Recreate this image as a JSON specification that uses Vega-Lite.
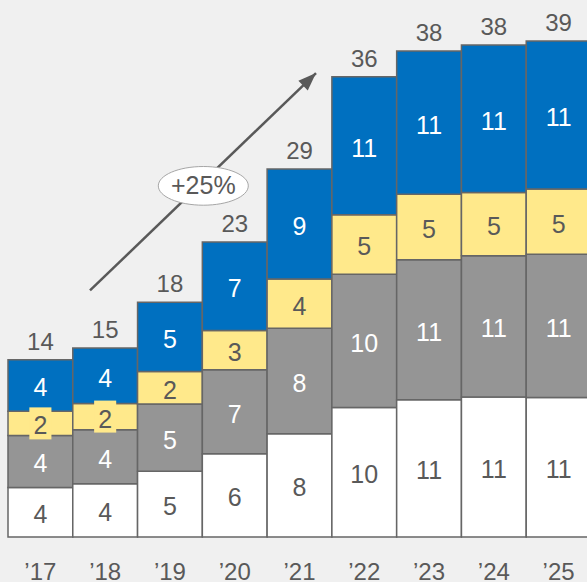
{
  "$schema": "https://vega.github.io/schema/vega-lite/v6.json",
  "width": 579,
  "height": 537,
  "autosize": {"type": "none"},
  "padding": {"left": 8, "top": 0, "right": 0, "bottom": 45},
  "background": "#f0f0f0",
  "config": {"view": {"stroke": null}, "font": "Liberation Sans"},
  "datasets": {
    "bars": [
      {"year": "’17", "segment": "A", "value": 3.9, "label": "4"},
      {"year": "’17", "segment": "B", "value": 4.1, "label": "4"},
      {"year": "’17", "segment": "C", "value": 1.9, "label": "2"},
      {"year": "’17", "segment": "D", "value": 4.07, "label": "4"},
      {"year": "’18", "segment": "A", "value": 4.2, "label": "4"},
      {"year": "’18", "segment": "B", "value": 4.25, "label": "4"},
      {"year": "’18", "segment": "C", "value": 2.07, "label": "2"},
      {"year": "’18", "segment": "D", "value": 4.36, "label": "4"},
      {"year": "’19", "segment": "A", "value": 5.17, "label": "5"},
      {"year": "’19", "segment": "B", "value": 5.3, "label": "5"},
      {"year": "’19", "segment": "C", "value": 2.57, "label": "2"},
      {"year": "’19", "segment": "D", "value": 5.46, "label": "5"},
      {"year": "’20", "segment": "A", "value": 6.56, "label": "6"},
      {"year": "’20", "segment": "B", "value": 6.61, "label": "7"},
      {"year": "’20", "segment": "C", "value": 3.09, "label": "3"},
      {"year": "’20", "segment": "D", "value": 6.98, "label": "7"},
      {"year": "’21", "segment": "A", "value": 8.13, "label": "8"},
      {"year": "’21", "segment": "B", "value": 8.32, "label": "8"},
      {"year": "’21", "segment": "C", "value": 3.88, "label": "4"},
      {"year": "’21", "segment": "D", "value": 8.66, "label": "9"},
      {"year": "’22", "segment": "A", "value": 10.2, "label": "10"},
      {"year": "’22", "segment": "B", "value": 10.5, "label": "10"},
      {"year": "’22", "segment": "C", "value": 4.69, "label": "5"},
      {"year": "’22", "segment": "D", "value": 10.87, "label": "11"},
      {"year": "’23", "segment": "A", "value": 10.81, "label": "11"},
      {"year": "’23", "segment": "B", "value": 11.02, "label": "11"},
      {"year": "’23", "segment": "C", "value": 5.17, "label": "5"},
      {"year": "’23", "segment": "D", "value": 11.28, "label": "11"},
      {"year": "’24", "segment": "A", "value": 11.02, "label": "11"},
      {"year": "’24", "segment": "B", "value": 11.13, "label": "11"},
      {"year": "’24", "segment": "C", "value": 4.98, "label": "5"},
      {"year": "’24", "segment": "D", "value": 11.63, "label": "11"},
      {"year": "’25", "segment": "A", "value": 10.99, "label": "11"},
      {"year": "’25", "segment": "B", "value": 11.29, "label": "11"},
      {"year": "’25", "segment": "C", "value": 5.14, "label": "5"},
      {"year": "’25", "segment": "D", "value": 11.65, "label": "11"}
    ],
    "totals": [
      {"year": "’17", "total": "14"},
      {"year": "’18", "total": "15"},
      {"year": "’19", "total": "18"},
      {"year": "’20", "total": "23"},
      {"year": "’21", "total": "29"},
      {"year": "’22", "total": "36"},
      {"year": "’23", "total": "38"},
      {"year": "’24", "total": "38"},
      {"year": "’25", "total": "39"}
    ],
    "arrow": [{"x": 1.266, "y": 19.42, "x2": 4.755, "y2": 36.54}],
    "badge": [{"x": 3.015, "y": 27.66, "label": "+25%"}]
  },
  "layer": [
    {
      "layer": [
        {
          "data": {"name": "bars"},
          "mark": {"type": "bar", "stroke": "#666666", "strokeWidth": 1.5},
          "encoding": {
            "x": {
              "field": "year", "type": "nominal", "sort": null,
              "scale": {"range": [0, 583], "paddingInner": 0, "paddingOuter": 0},
              "axis": {"title": null, "domain": false, "ticks": false, "tickSize": 0, "labelAngle": 0, "labelFontSize": 24, "labelColor": "#595959", "labelBaseline": "alphabetic", "labelPadding": 42, "labelFont": "Liberation Sans"}
            },
            "y": {"field": "value", "type": "quantitative", "stack": "zero", "scale": {"domain": [0, 42.3], "nice": false}, "axis": null},
            "color": {"field": "segment", "type": "nominal", "scale": {"domain": ["A", "B", "C", "D"], "range": ["#ffffff", "#959595", "#ffe98b", "#0070c0"]}, "legend": null},
            "order": {"field": "segment", "type": "nominal"}
          }
        },
        {
          "data": {"name": "bars"},
          "transform": [
            {"stack": "value", "groupby": ["year"], "sort": [{"field": "segment"}], "as": ["v0", "v1"]},
            {"calculate": "(datum.v0 + datum.v1) / 2", "as": "mid"},
            {"filter": "datum.segment === 'C' && (datum.year === '’17' || datum.year === '’18')"}
          ],
          "mark": {"type": "point", "shape": "M-0.69,-1H0.69V1H-0.69Z", "size": 1024, "filled": true, "color": "#ffe98b", "opacity": 1, "strokeWidth": 0},
          "encoding": {
            "x": {"field": "year", "type": "nominal", "sort": null},
            "y": {"field": "mid", "type": "quantitative"}
          }
        },
        {
          "data": {"name": "bars"},
          "transform": [
            {"stack": "value", "groupby": ["year"], "sort": [{"field": "segment"}], "as": ["v0", "v1"]},
            {"calculate": "(datum.v0 + datum.v1) / 2", "as": "mid"}
          ],
          "mark": {"type": "text", "fontSize": 25, "baseline": "middle", "dy": 3, "font": "Liberation Sans"},
          "encoding": {
            "x": {"field": "year", "type": "nominal", "sort": null},
            "y": {"field": "mid", "type": "quantitative"},
            "text": {"field": "label"},
            "color": {"condition": {"test": "datum.segment === 'B' || datum.segment === 'D'", "value": "#ffffff"}, "value": "#595959"}
          }
        },
        {
          "data": {"name": "bars"},
          "transform": [
            {"aggregate": [{"op": "sum", "field": "value", "as": "sum"}], "groupby": ["year"]},
            {"lookup": "year", "from": {"data": {"name": "totals"}, "key": "year", "fields": ["total"]}}
          ],
          "mark": {"type": "text", "fontSize": 24, "baseline": "alphabetic", "dy": -10, "color": "#595959", "font": "Liberation Sans"},
          "encoding": {
            "x": {"field": "year", "type": "nominal", "sort": null},
            "y": {"field": "sum", "type": "quantitative"},
            "text": {"field": "total"}
          }
        }
      ]
    },
    {
      "layer": [
        {
          "data": {"name": "arrow"},
          "mark": {"type": "rule", "color": "#595959", "strokeWidth": 2.5},
          "encoding": {
            "x": {"field": "x", "type": "quantitative", "scale": {"domain": [0, 9], "range": [0, 583], "nice": false, "zero": false}, "axis": null},
            "y": {"field": "y", "type": "quantitative", "scale": {"domain": [0, 42.3], "nice": false}, "axis": null},
            "x2": {"field": "x2"},
            "y2": {"field": "y2"}
          }
        },
        {
          "data": {"name": "arrow"},
          "mark": {"type": "point", "shape": "M0,0L0.75,2L-0.75,2Z", "size": 324, "angle": 46, "filled": true, "color": "#595959", "opacity": 1},
          "encoding": {
            "x": {"field": "x2", "type": "quantitative"},
            "y": {"field": "y2", "type": "quantitative"}
          }
        },
        {
          "data": {"name": "badge"},
          "mark": {"type": "point", "shape": "M-1,0A1,0.43,0,1,1,1,0A1,0.43,0,1,1,-1,0Z", "size": 8100, "filled": true, "color": "#ffffff", "opacity": 1, "stroke": "#a6a6a6", "strokeWidth": 1},
          "encoding": {
            "x": {"field": "x", "type": "quantitative"},
            "y": {"field": "y", "type": "quantitative"}
          }
        },
        {
          "data": {"name": "badge"},
          "mark": {"type": "text", "fontSize": 25, "baseline": "middle", "color": "#595959", "font": "Liberation Sans"},
          "encoding": {
            "x": {"field": "x", "type": "quantitative"},
            "y": {"field": "y", "type": "quantitative"},
            "text": {"field": "label"}
          }
        }
      ]
    }
  ],
  "resolve": {"scale": {"x": "independent"}, "axis": {"x": "independent"}}
}
